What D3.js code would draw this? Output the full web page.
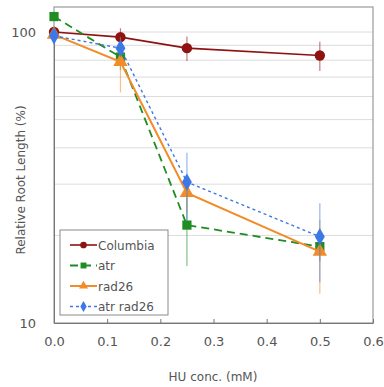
<!DOCTYPE html>
<html><head><meta charset="utf-8">
<script src="https://cdn.jsdelivr.net/npm/d3@7"></script>
<style>body{margin:0;background:#fff}svg{display:block}text{font-family:"DejaVu Sans",sans-serif}</style>
</head><body><div id="chart"></div>
<script>
const conc = [0, 0.125, 0.25, 0.5];
const seriesNames = ["Columbia", "atr", "rad26", "atr rad26"];
const columbia = [100, 96, 88, 83];
const columbiaErr = [4, 7, 8.5, 9.5];
const atr = [113, 82, 21.7, 18.3];
const atrErr = [3, 8, 6, 2];
const rad26 = [98, 79, 28, 17.6];
const rad26Err = [3, 17, 4, 5];
const atrRad26 = [97, 88, 30.5, 19.8];
const atrRad26Err = [3, 6, 8, 6];
const xTicks = [0, 0.1, 0.2, 0.3, 0.4, 0.5, 0.6];
const yTickLabels = [10, 100];
const yGrid = [20, 30, 40, 50, 60, 70, 80, 90, 100];

const W = 384, H = 387;
const L = 54, R = 373, T = 7, B = 323;
const svg = d3.select("#chart").append("svg").attr("width", W).attr("height", H);
const x = d3.scaleLinear().domain([0, 0.6]).range([L, R]);
const y = d3.scaleLog().domain([10, 100]).range([B, 32]);

// gridlines
svg.append("g").selectAll("line").data(yGrid).join("line")
  .attr("x1", L).attr("x2", R).attr("y1", d => y(d)).attr("y2", d => y(d))
  .attr("stroke", "#dcdcdc").attr("stroke-width", 1);

// frame
svg.append("rect").attr("x", L).attr("y", T).attr("width", R - L).attr("height", B - T)
  .attr("fill", "none").attr("stroke", "#9a9a9a").attr("stroke-width", 1.2);

// x axis
const xAxis = d3.axisBottom(x).tickValues(xTicks).tickFormat(d3.format(".1f")).tickSizeInner(-4).tickSizeOuter(0).tickPadding(14);
const gx = svg.append("g").attr("transform", `translate(0,${B})`).call(xAxis);
gx.select(".domain").attr("stroke", "#777");
gx.selectAll(".tick line").attr("stroke", "#777");
gx.selectAll("text").attr("fill", "#555").attr("font-size", 13);

// y axis
const yAxis = d3.axisLeft(y).tickValues(yTickLabels).tickFormat(d3.format("d")).tickSize(0).tickPadding(18);
const gy = svg.append("g").attr("transform", `translate(${L},0)`).call(yAxis);
gy.select(".domain").attr("stroke", "#777");
gy.selectAll("text").attr("fill", "#555").attr("font-size", 13);

svg.append("text").attr("x", 213).attr("y", 381).attr("text-anchor", "middle")
  .attr("font-size", 12).attr("fill", "#555").text("HU conc. (mM)");
svg.append("text").attr("transform", "translate(25,180) rotate(-90)").attr("text-anchor", "middle")
  .attr("font-size", 12).attr("fill", "#555").text("Relative Root Length (%)");

const series = [
  {name: seriesNames[0], v: columbia, e: columbiaErr, color: "#8e1212", dash: null, sym: d3.symbolCircle, w: 1.6},
  {name: seriesNames[1], v: atr, e: atrErr, color: "#1f8c24", dash: "8,5", sym: d3.symbolSquare, w: 1.8},
  {name: seriesNames[2], v: rad26, e: rad26Err, color: "#f28c28", dash: null, sym: d3.symbolTriangle, w: 2},
  {name: seriesNames[3], v: atrRad26, e: atrRad26Err, color: "#3c78e6", dash: "3,3", sym: d3.symbolDiamond, w: 1.4}
];

const line = d3.line().x(d => x(d[0])).y(d => y(d[1]));
series.forEach(s => {
  const pts = conc.map((c, i) => [c, s.v[i], s.e[i]]);
  const g = svg.append("g");
  g.selectAll("line.err").data(pts).join("line").attr("class", "err")
    .attr("x1", d => x(d[0])).attr("x2", d => x(d[0]))
    .attr("y1", d => y(d[1] + d[2])).attr("y2", d => y(Math.max(d[1] - d[2], 10.1)))
    .attr("stroke", s.color).attr("stroke-opacity", 0.55).attr("stroke-width", 1.2);
  g.append("path").attr("d", line(pts)).attr("fill", "none").attr("stroke", s.color)
    .attr("stroke-width", s.w).attr("stroke-dasharray", s.dash);
  g.selectAll("path.m").data(pts).join("path").attr("class", "m")
    .attr("transform", d => `translate(${x(d[0])},${y(d[1])})`)
    .attr("d", d3.symbol().type(s.sym).size(s.sym === d3.symbolTriangle ? 90 : 85))
    .attr("fill", s.color);
});

// legend
const lg = svg.append("g");
lg.append("rect").attr("x", 60).attr("y", 230).attr("width", 108).attr("height", 85)
  .attr("fill", "#fff").attr("stroke", "#8a8a8a").attr("stroke-width", 1);
series.forEach((s, i) => {
  const yy = 245 + i * 20.5;
  lg.append("line").attr("x1", 70).attr("x2", 97).attr("y1", yy).attr("y2", yy)
    .attr("stroke", s.color).attr("stroke-width", s.w).attr("stroke-dasharray", s.dash);
  lg.append("path").attr("transform", `translate(83.5,${yy})`)
    .attr("d", d3.symbol().type(s.sym).size(35)).attr("fill", s.color);
  lg.append("text").attr("x", 98).attr("y", yy + 4.5).attr("font-size", 12)
    .attr("fill", "#555").text(s.name);
});
</script></body></html>
